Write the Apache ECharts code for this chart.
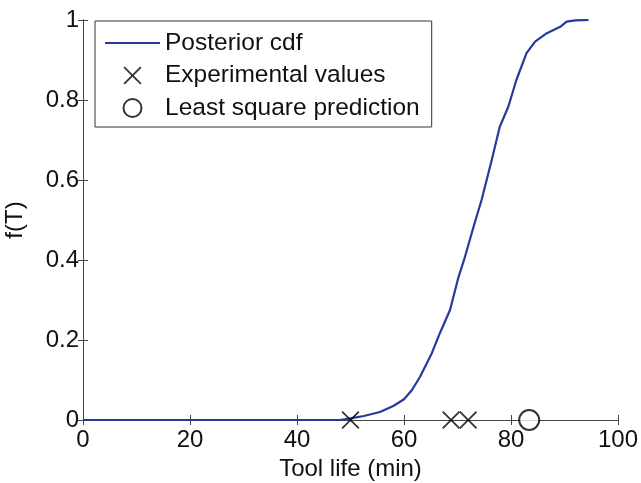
<!DOCTYPE html>
<html>
<head>
<meta charset="utf-8">
<script src="https://cdn.jsdelivr.net/npm/echarts@6/dist/echarts.min.js"></script>
<style>
  html, body { margin: 0; padding: 0; background: #fff; }
  #chart { width: 641px; height: 483px; }
</style>
</head>
<body>
<div id="chart"></div>
<script>
// Posterior cumulative distribution of tool life
const cdfTime = [0, 48, 50, 52.5, 55.5, 58, 60, 61.5, 63, 65.2, 66.7, 68.6, 70.2, 71.4, 73, 74.5,
  76.4, 77.9, 79.5, 81, 82.9, 84.5, 86.7, 89.2, 90.4, 92, 94.5];
const cdfValue = [0, 0, 0.004, 0.01, 0.02, 0.035, 0.052, 0.075, 0.108, 0.167, 0.217, 0.275, 0.358,
  0.408, 0.483, 0.55, 0.65, 0.733, 0.783, 0.85, 0.917, 0.946, 0.967, 0.983, 0.996, 0.999, 1.0];

// Measured tool lives and the least-squares estimate (plotted on the zero line)
const experimentalTimes = [50, 68.8, 72];
const leastSquareTimes = [83.4];

const xTicks = [0, 20, 40, 60, 80, 100];
const yTicks = [0, 0.2, 0.4, 0.6, 0.8, 1];

const FONT = 'Liberation Sans, Arial, sans-serif';
const AXIS_COLOR = '#444';
const CURVE_COLOR = '#263a9e';
const CROSS = 'path://M0,0.7 L0.7,0 L5,4.3 L9.3,0 L10,0.7 L5.7,5 L10,9.3 L9.3,10 L5,5.7 L0.7,10 L0,9.3 L4.3,5 Z';
const LINE_ICON = 'path://M0,0 L55,0 L55,2.2 L0,2.2 Z';

const chart = echarts.init(document.getElementById('chart'), null, { renderer: 'canvas' });

const baseAxis = {
  type: 'value',
  axisLine: { show: true, lineStyle: { color: AXIS_COLOR, width: 1 } },
  axisTick: { show: true, inside: true, length: 5, lineStyle: { color: AXIS_COLOR } },
  splitLine: { show: false }
};

const xMin = xTicks[0], xMax = xTicks[xTicks.length - 1];
const yMin = yTicks[0], yMax = yTicks[yTicks.length - 1];

chart.setOption({
  animation: false,
  backgroundColor: '#fff',
  textStyle: { fontFamily: FONT },
  grid: { left: 83, right: 23, top: 20, bottom: 63, containLabel: false, outerBoundsMode: 'none' },
  legend: {
    left: 95, top: 21,
    orient: 'vertical',
    backgroundColor: '#fff',
    borderColor: '#333', borderWidth: 1,
    padding: [8, 12, 5, 10],
    itemWidth: 55, itemHeight: 18, itemGap: 4.5, itemTextGap: 6,
    textStyle: { fontSize: 24.5, color: '#111', fontFamily: FONT, lineHeight: 28 },
    data: [
      { name: 'Posterior cdf', icon: LINE_ICON, itemStyle: { color: CURVE_COLOR } },
      { name: 'Experimental values' },
      { name: 'Least square prediction' }
    ]
  },
  xAxis: [
    Object.assign({}, baseAxis, {
      min: xMin, max: xMax, interval: 20, position: 'bottom',
      name: 'Tool life (min)', nameLocation: 'middle', nameGap: 35,
      nameTextStyle: { fontSize: 24, color: '#111', fontFamily: FONT },
      axisLabel: { fontSize: 24, color: '#111', margin: 8, fontFamily: FONT }
    }),
    Object.assign({}, baseAxis, {
      min: xMin, max: xMax, interval: 20, position: 'top',
      axisLabel: { show: false }
    })
  ],
  yAxis: [
    Object.assign({}, baseAxis, {
      min: yMin, max: yMax, interval: 0.2, position: 'left',
      name: 'f(T)', nameLocation: 'middle', nameGap: 56,
      nameTextStyle: { fontSize: 24, color: '#111', fontFamily: FONT },
      axisLabel: { fontSize: 24, color: '#111', margin: 4, fontFamily: FONT }
    }),
    Object.assign({}, baseAxis, {
      min: yMin, max: yMax, interval: 0.2, position: 'right',
      axisLabel: { show: false }
    })
  ],
  series: [
    {
      name: 'Posterior cdf',
      type: 'line',
      xAxisIndex: 0, yAxisIndex: 0,
      data: cdfTime.map((t, i) => [t, cdfValue[i]]),
      symbol: 'none',
      showSymbol: false,
      lineStyle: { color: CURVE_COLOR, width: 2.2 },
      itemStyle: { color: CURVE_COLOR },
      z: 3
    },
    {
      name: 'Experimental values',
      type: 'scatter',
      xAxisIndex: 0, yAxisIndex: 0,
      data: experimentalTimes.map(t => [t, 0]),
      symbol: CROSS,
      symbolSize: 18,
      itemStyle: { color: '#000' },
      z: 4
    },
    {
      name: 'Least square prediction',
      type: 'scatter',
      xAxisIndex: 0, yAxisIndex: 0,
      data: leastSquareTimes.map(t => [t, 0]),
      symbol: 'emptyCircle',
      symbolSize: 20,
      itemStyle: { color: '#000', borderColor: '#000', borderWidth: 1.6 },
      z: 4
    }
  ]
});
</script>
</body>
</html>
